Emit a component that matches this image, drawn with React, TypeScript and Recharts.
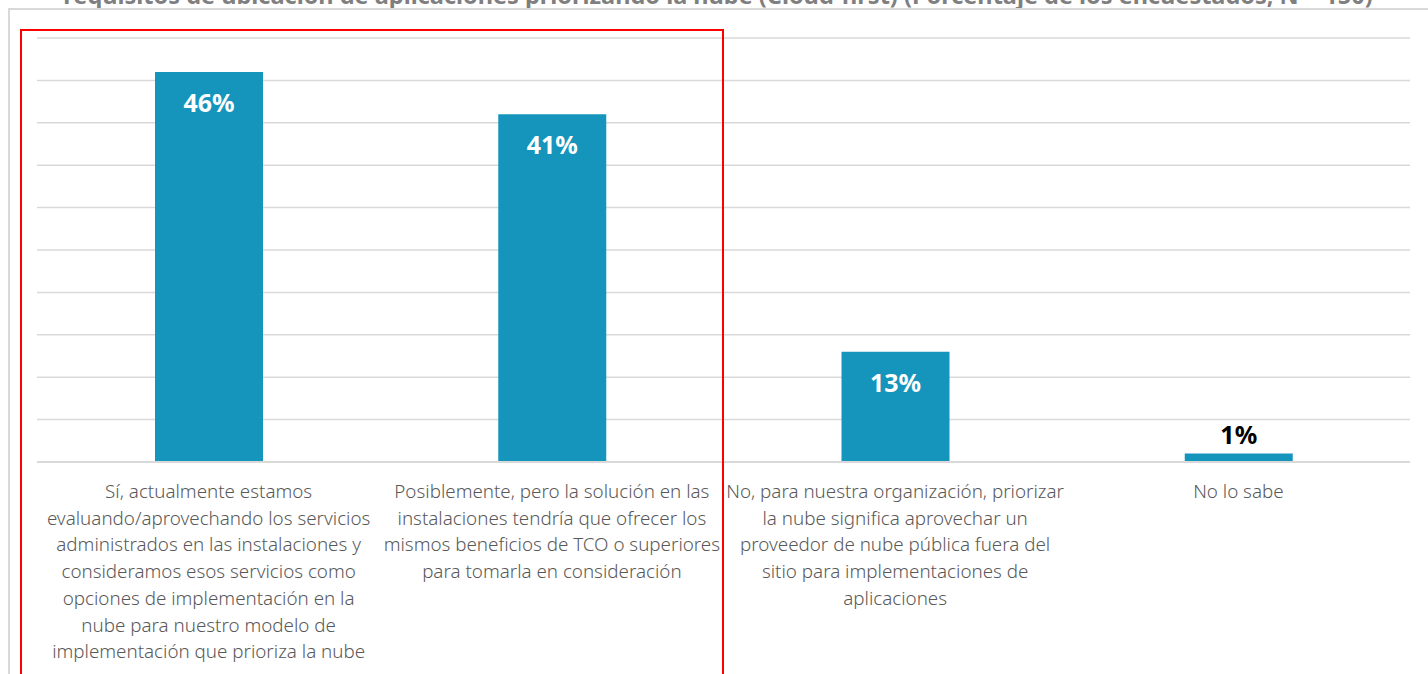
import React from 'react';
import { BarChart, Bar, XAxis, YAxis, CartesianGrid, LabelList } from 'recharts';

const categories = [
  'Sí, actualmente estamos\nevaluando/aprovechando los servicios\nadministrados en las instalaciones y\nconsideramos esos servicios como\nopciones de implementación en la\nnube para nuestro modelo de\nimplementación que prioriza la nube',
  'Posiblemente, pero la solución en las\ninstalaciones tendría que ofrecer los\nmismos beneficios de TCO o superiores\npara tomarla en consideración',
  'No, para nuestra organización, priorizar\nla nube significa aprovechar un\nproveedor de nube pública fuera del\nsitio para implementaciones de\naplicaciones',
  'No lo sabe',
];
const percentages = [46, 41, 13, 1];
const yTicks = [0, 5, 10, 15, 20, 25, 30, 35, 40, 45, 50];

const title =
  'requisitos de ubicación de aplicaciones priorizando la nube (Cloud-first) (Porcentaje de los encuestados, N = 150)';

const data = categories.map((name, i) => ({ name, value: percentages[i] }));

const font = '"Source Sans Pro", "Noto Sans", Lato, sans-serif';

const CategoryTick = (props: any) => {
  const { x, y, payload } = props;
  const lines = String(payload.value).split('\n');
  return (
    <text x={x} y={y + 28} textAnchor="middle" fill="#595959" fontSize={18.8} fontWeight={300} fontFamily={font}>
      {lines.map((line, i) => (
        <tspan key={i} x={x} dy={i === 0 ? 0 : 26.7}>
          {line}
        </tspan>
      ))}
    </text>
  );
};

const ValueLabel = (props: any) => {
  const { x, y, width, value } = props;
  const inside = value >= 5;
  return (
    <text
      x={x + width / 2}
      y={inside ? y + 40 : y - 10}
      textAnchor="middle"
      fill={inside ? '#ffffff' : '#000000'}
      fontSize={25}
      fontWeight={700}
      fontFamily={font}
    >
      {value}%
    </text>
  );
};

export default function App() {
  return (
    <div style={{ position: 'absolute', left: 0, top: 0, width: 1428, height: 674, overflow: 'hidden', background: '#fff' }}>
      <div
        style={{
          position: 'absolute',
          left: 0,
          width: 1436,
          top: -21,
          textAlign: 'center',
          fontFamily: font,
          fontWeight: 700,
          fontSize: 23.5,
          color: '#7f7f7f',
          whiteSpace: 'nowrap',
        }}
      >
        {title}
      </div>
      <div style={{ position: 'absolute', left: 8, top: 8, right: -2, bottom: -2, borderLeft: '2px solid #d9d9d9', borderTop: '2px solid #d9d9d9' }} />
      <BarChart
        width={1428}
        height={674}
        data={data}
        margin={{ top: 38, right: 18, left: 37, bottom: 0 }}
        style={{ position: 'absolute', left: 0, top: 0 }}
      >
        <CartesianGrid vertical={false} stroke="#d9d9d9" strokeWidth={1.5} />
        <YAxis hide domain={[0, 50]} ticks={yTicks} />
        <XAxis
          dataKey="name"
          interval={0}
          height={212}
          tickLine={false}
          axisLine={{ stroke: '#d9d9d9', strokeWidth: 2 }}
          tick={<CategoryTick />}
        />
        <Bar dataKey="value" fill="#1594bc" barSize={108} isAnimationActive={false}>
          <LabelList dataKey="value" content={<ValueLabel />} />
        </Bar>
      </BarChart>
      <div style={{ position: 'absolute', left: 20, top: 29, width: 700, height: 700, border: '2.5px solid #ff0000' }} />
    </div>
  );
}
